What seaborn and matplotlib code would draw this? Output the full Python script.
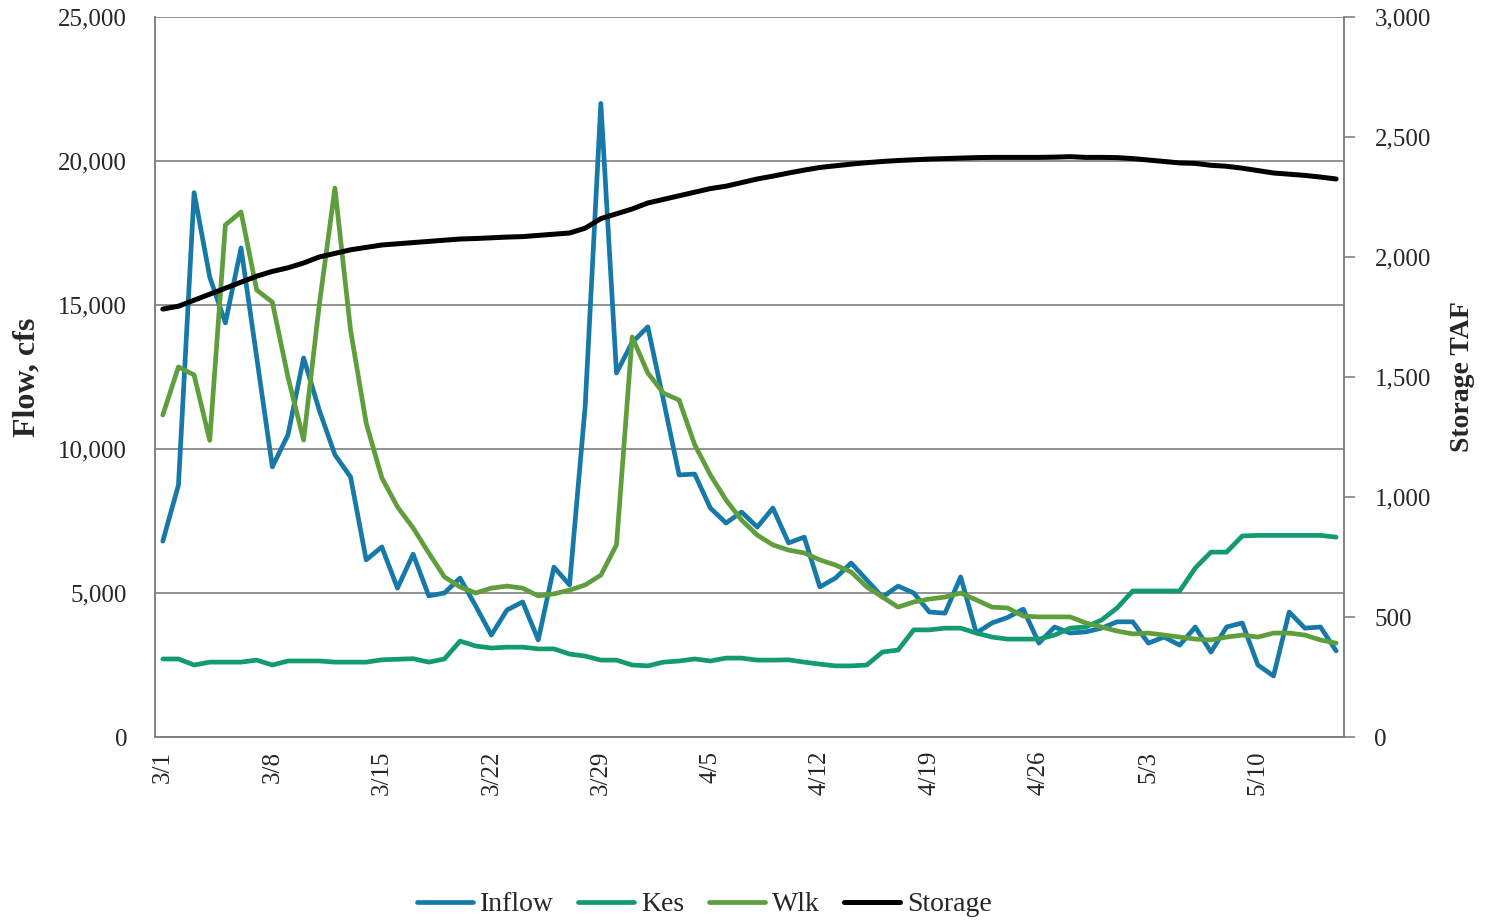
import pandas as pd
import matplotlib
matplotlib.use("Agg")
import matplotlib.pyplot as plt
import seaborn as sns

# daily values, 3/1 through 5/15
dates = pd.date_range("2011-03-01", "2011-05-15", freq="D")

inflow = [6800, 8750, 18900, 15970, 14380, 16980, 13190, 9380, 10490, 13160,
          11350, 9800, 9030, 6150, 6600, 5170, 6350, 4900, 5000, 5520,
          4550, 3540, 4410, 4690, 3370, 5900, 5280, 11500, 22000, 12640,
          13700, 14240, 11700, 9100, 9130, 7950, 7430, 7810, 7290, 7950,
          6740, 6940, 5210, 5520, 6040, 5450, 4860, 5240, 5000, 4340,
          4300, 5560, 3610, 3960, 4150, 4440, 3260, 3820, 3610, 3650,
          3780, 4000, 4000, 3260, 3470, 3190, 3820, 2950, 3820, 3960,
          2500, 2120, 4340, 3780, 3820, 2990]

kes = [2710, 2710, 2500, 2600, 2600, 2600, 2670, 2500, 2640, 2640,
       2640, 2600, 2600, 2600, 2680, 2700, 2720, 2600, 2710, 3330,
       3160, 3090, 3120, 3120, 3060, 3060, 2880, 2810, 2670, 2670,
       2500, 2470, 2600, 2640, 2710, 2640, 2740, 2740, 2670, 2670,
       2680, 2600, 2530, 2470, 2470, 2500, 2950, 3020, 3720, 3720,
       3780, 3780, 3610, 3470, 3400, 3400, 3400, 3540, 3780, 3820,
       4060, 4480, 5070, 5070, 5070, 5070, 5870, 6420, 6420, 6980,
       7000, 7000, 7000, 7000, 7000, 6940]

wlk = [11180, 12850, 12570, 10300, 17780, 18230, 15520, 15100, 12500, 10310,
       15000, 19060, 14130, 10900, 9000, 7990, 7260, 6390, 5560, 5210,
       5000, 5170, 5240, 5170, 4900, 4970, 5100, 5280, 5620, 6670,
       13890, 12640, 11940, 11700, 10150, 9100, 8230, 7530, 7010, 6670,
       6490, 6390, 6150, 5970, 5730, 5210, 4860, 4510, 4690, 4790,
       4860, 5000, 4760, 4510, 4480, 4200, 4170, 4170, 4170, 3960,
       3820, 3680, 3580, 3610, 3540, 3470, 3400, 3370, 3470, 3540,
       3470, 3610, 3610, 3540, 3370, 3260]

storage = [1783, 1795, 1820, 1845, 1870, 1895, 1920, 1940, 1955, 1975,
           2000, 2015, 2030, 2040, 2050, 2055, 2060, 2065, 2070, 2075,
           2077, 2080, 2083, 2085, 2090, 2095, 2100, 2120, 2160, 2180,
           2200, 2225, 2240, 2255, 2270, 2285, 2295, 2310, 2325, 2337,
           2350, 2362, 2373, 2380, 2387, 2393, 2398, 2402, 2405, 2408,
           2410, 2412, 2414, 2415, 2415, 2415, 2415, 2416, 2418, 2415,
           2415, 2414, 2410, 2404, 2398, 2392, 2390, 2382, 2378, 2370,
           2360, 2350, 2345, 2340, 2333, 2325]

df = pd.DataFrame({
    "day": range(len(dates)),
    "Inflow": inflow,
    "Kes": kes,
    "Wlk": wlk,
    "Storage": storage,
})

colors = {"Inflow": "#1779a8", "Kes": "#139a70", "Wlk": "#5f9e3d", "Storage": "#000000"}

sns.set_style("white")
plt.rcParams["font.family"] = ["Liberation Serif", "DejaVu Serif"]

fig = plt.figure(figsize=(14.86, 9.23), dpi=100)
ax = fig.add_axes([0.1043, 0.2015, 0.8001, 0.7801])
ax2 = ax.twinx()

for name in ["Inflow", "Kes", "Wlk"]:
    sns.lineplot(data=df, x="day", y=name, ax=ax, color=colors[name],
                 linewidth=3.4, label=name, legend=False)
sns.lineplot(data=df, x="day", y="Storage", ax=ax2, color=colors["Storage"],
             linewidth=3.6, label="Storage", legend=False)

grey = "#808080"
ax.set_xlim(-0.5, len(dates) - 0.5)
ax.set_ylim(0, 25000)
ax2.set_ylim(0, 3000)
ax.set_yticks(range(0, 25001, 5000))
ax2.set_yticks(range(0, 3001, 500))
ax.yaxis.set_major_formatter(matplotlib.ticker.StrMethodFormatter("{x:,.0f}"))
ax2.yaxis.set_major_formatter(matplotlib.ticker.StrMethodFormatter("{x:,.0f}"))

tick_idx = list(range(0, len(dates), 7))
ax.set_xticks(tick_idx)
ax.set_xticklabels([f"{dates[i].month}/{dates[i].day}" for i in tick_idx],
                   rotation=90, fontsize=18)
ax.tick_params(axis="x", length=0, pad=10)
ax.tick_params(axis="y", labelsize=18, length=0, pad=20)
ax2.tick_params(axis="y", labelsize=18, length=8, width=1.2, color=grey,
                direction="out", pad=14)

ax.grid(axis="y", color=grey, linewidth=1.2)
ax.grid(axis="x", visible=False)
ax.set_axisbelow(True)

for a in (ax, ax2):
    a.spines["top"].set_visible(False)
    for s in ("left", "bottom", "right"):
        a.spines[s].set_color(grey)
        a.spines[s].set_linewidth(1.2)

ax.set_xlabel("")
ax.set_ylabel("Flow, cfs", fontsize=23, fontweight="bold", labelpad=12)
ax2.set_ylabel("Storage TAF", fontsize=20, fontweight="bold", labelpad=14)

handles = ax.get_lines()[:3] + ax2.get_lines()[:1]
fig.legend(handles, ["Inflow", "Kes", "Wlk", "Storage"], loc="center",
           bbox_to_anchor=(0.474, 0.02), ncol=4, frameon=False, fontsize=20,
           handlelength=2.0, handletextpad=0.25, columnspacing=0.9)

fig.savefig("out.png", dpi=100, facecolor="white")
